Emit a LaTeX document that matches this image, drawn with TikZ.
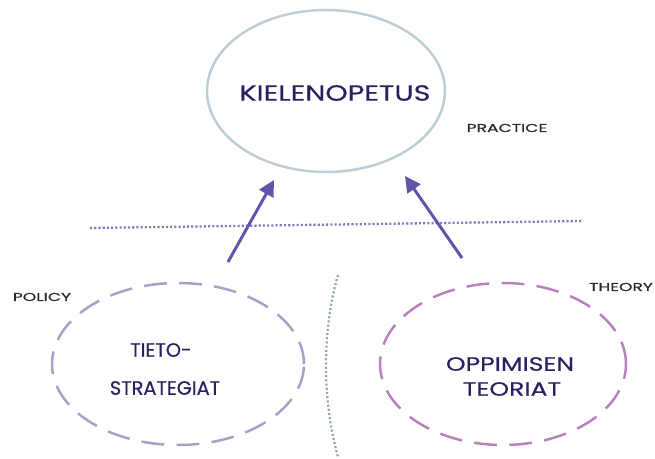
\documentclass[tikz,border=0pt]{standalone}
\usepackage{fontspec}
\setmainfont{Poppins}
\newfontfamily\diagfont{Poppins}[FakeBold=0.4]
\newfontfamily\widefont{Poppins}[FakeBold=0.4, FakeStretch=1.3]
\newfontfamily\labelfont{Poppins}[FakeBold=0.6, FakeStretch=1.5]
\usetikzlibrary{arrows.meta, shapes.geometric, calc}

\definecolor{ringblue}{RGB}{188,205,216}
\definecolor{inkblue}{RGB}{42,32,96}
\definecolor{dotblue}{RGB}{128,122,192}
\definecolor{arrowpurple}{RGB}{98,84,168}
\definecolor{ringgray}{RGB}{168,160,198}
\definecolor{ringpink}{RGB}{184,128,190}
\definecolor{dotgreen}{RGB}{150,172,160}
\definecolor{labelgray}{RGB}{40,40,40}

\begin{document}
\begin{tikzpicture}
[x=0.02cm, y=-0.02cm,
 ring/.style={ellipse, draw, line width=1.4pt, inner sep=0pt},
 dashring/.style={ring, dash pattern=on 13pt off 7pt},
 bigtext/.style={text=inkblue, font=\widefont\fontsize{12.5}{15}\selectfont},
 widetext/.style={text=inkblue, font=\widefont\fontsize{11}{13}\selectfont},
 midtext/.style={text=inkblue, font=\diagfont\fontsize{11}{13}\selectfont},
 smalltext/.style={text=labelgray, font=\labelfont\fontsize{6.5}{8}\selectfont},
 pointer/.style={draw=arrowpurple, line width=1.7pt, -{Triangle[length=9pt, width=9pt]}}]
\useasboundingbox (0,0) rectangle (655,459);

% practice
\node [ring, draw=ringblue, minimum width=4.76cm, minimum height=3.24cm] (practice) at (326, 91) {};
\node [bigtext] (kielenopetus) at (335, 93) {KIELENOPETUS};
\node [smalltext] (practicelabel) at (507, 128) {PRACTICE};

% policy and theory
\node [dashring, draw=ringgray, minimum width=5.04cm, minimum height=3.24cm] (policy) at (178, 364) {};
\node [midtext] (tieto) at (161, 350) {TIETO-};
\node [midtext] (strategiat) at (165, 388) {STRATEGIAT};
\node [smalltext] (policylabel) at (42, 297) {POLICY};

\node [dashring, draw=ringpink, minimum width=4.92cm, minimum height=3.24cm] (theory) at (503, 364) {};
\node [widetext] (oppimisen) at (510, 364) {OPPIMISEN};
\node [widetext] (teoriat) at (512, 389) {TEORIAT};
\node [smalltext] (theorylabel) at (621, 287) {THEORY};

% dividers
\coordinate (hleft) at (90, 228);
\coordinate (hright) at (583, 221);
\draw [dotblue, line width=1.3pt, dash pattern=on 1.2pt off 1.2pt] (hleft) -- (hright);
\coordinate (vtop) at (338, 275);
\coordinate (vbottom) at (338, 457);
\draw [dotgreen, line width=1.3pt, dash pattern=on 1.2pt off 1.2pt] (vtop) .. controls (322, 330) and (322, 400) .. (vbottom);

% arrows
\coordinate (leftfoot) at (228, 262);
\coordinate (lefttip) at (274, 180);
\coordinate (rightfoot) at (462, 258);
\coordinate (righttip) at (405, 176);
\draw [pointer] (leftfoot) -- (lefttip);
\draw [pointer] (rightfoot) -- (righttip);
\end{tikzpicture}
\end{document}
